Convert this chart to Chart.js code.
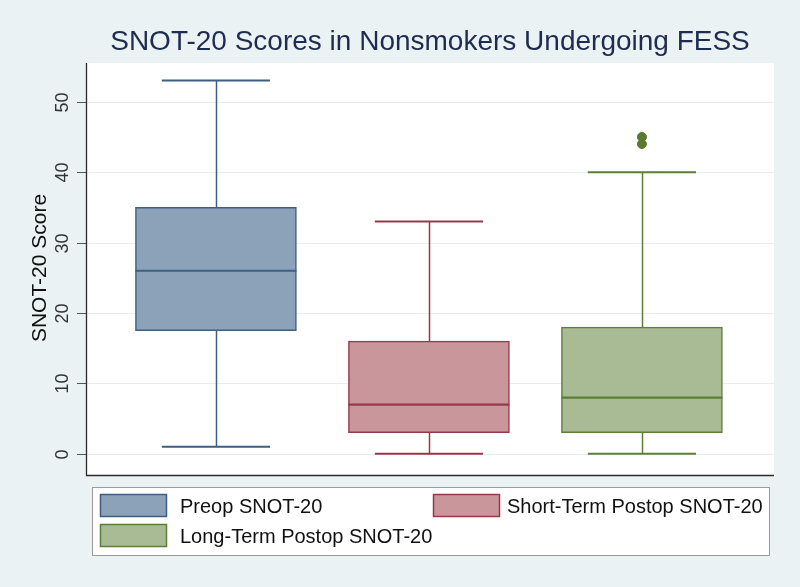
<!DOCTYPE html>
<html>
<head>
<meta charset="utf-8">
<script src="https://cdn.jsdelivr.net/npm/chart.js@4.4.1/dist/chart.umd.min.js"></script>
<style>
html,body{margin:0;padding:0;background:#eaf2f4;}
#wrap{width:800px;height:587px;position:relative;}
canvas{display:block;}
</style>
</head>
<body>
<div id="wrap"><canvas id="c" width="800" height="587"></canvas></div>
<script>
// ---- data ----
const categories = ['Preop SNOT-20', 'Short-Term Postop SNOT-20', 'Long-Term Postop SNOT-20'];
const q1Values = [17.5, 3, 3];
const medianValues = [26, 7, 8];
const q3Values = [35, 16, 18];
const whiskerLow = [1, 0, 0];
const whiskerHigh = [53, 33, 40];
const outliers = [[], [], [44, 45]];
const yTicks = [0, 10, 20, 30, 40, 50];
const titleText = 'SNOT-20 Scores in Nonsmokers Undergoing FESS';
const yTitle = 'SNOT-20 Score';

// ---- styles ----
const fills = ['#8ba2b9', '#c9979b', '#a9bb94'];
const strokes = ['#3d5f82', '#993848', '#5e7f38'];
const FONT = '"Liberation Sans", Arial, sans-serif';

const datasets = categories.map((name, i) => ({
  type: 'bar',
  label: name,
  data: [{x: i + 1, y: [q1Values[i], q3Values[i]]}],
  backgroundColor: fills[i],
  borderColor: strokes[i],
  borderWidth: 1.5,
  borderSkipped: false,
  barThickness: 161,
  grouped: false
}));
datasets.push({
  type: 'scatter',
  label: 'outliers',
  data: outliers.flatMap((arr, i) => arr.map(v => ({x: i + 1, y: v}))),
  backgroundColor: '#5b7a2e',
  borderColor: '#5b7a2e',
  pointRadius: 4.5,
  pointHoverRadius: 4.5
});

const decor = {
  id: 'decor',
  beforeDraw(chart) {
    const {ctx, chartArea: a, scales: {y}} = chart;
    ctx.save();
    ctx.fillStyle = '#eaf2f4';
    ctx.fillRect(0, 0, chart.width, chart.height);
    ctx.fillStyle = '#ffffff';
    ctx.fillRect(a.left, a.top, a.right - a.left, a.bottom - a.top);
    ctx.strokeStyle = '#e4eff2';
    ctx.lineWidth = 1;
    yTicks.forEach(t => {
      const py = Math.round(y.getPixelForValue(t)) + 0.5;
      ctx.beginPath(); ctx.moveTo(a.left, py); ctx.lineTo(a.right, py); ctx.stroke();
    });
    ctx.restore();
  },
  beforeDatasetsDraw(chart) {
    const {ctx, scales: {x, y}} = chart;
    ctx.save();
    categories.forEach((c, i) => {
      const cx = Math.round(x.getPixelForValue(i + 1)) + 0.5;
      const capL = x.getPixelForValue(i + 1 - 0.254), capR = x.getPixelForValue(i + 1 + 0.254);
      ctx.strokeStyle = strokes[i];
      ctx.lineWidth = 1.5;
      const yl = y.getPixelForValue(whiskerLow[i]), yh = y.getPixelForValue(whiskerHigh[i]);
      const y1 = y.getPixelForValue(q1Values[i]), y3 = y.getPixelForValue(q3Values[i]);
      ctx.beginPath();
      ctx.moveTo(cx, y1); ctx.lineTo(cx, yl);
      ctx.moveTo(cx, y3); ctx.lineTo(cx, yh);
      ctx.stroke();
      ctx.lineWidth = 2;
      ctx.beginPath();
      ctx.moveTo(capL, yl); ctx.lineTo(capR, yl);
      ctx.moveTo(capL, yh); ctx.lineTo(capR, yh);
      ctx.stroke();
    });
    ctx.restore();
  },
  afterDatasetsDraw(chart) {
    const {ctx, chartArea: a, scales: {x, y}} = chart;
    ctx.save();
    categories.forEach((c, i) => {
      const cx = x.getPixelForValue(i + 1);
      const ym = y.getPixelForValue(medianValues[i]);
      ctx.strokeStyle = strokes[i];
      ctx.lineWidth = 2.2;
      ctx.beginPath(); ctx.moveTo(cx - 80.5, ym); ctx.lineTo(cx + 80.5, ym); ctx.stroke();
    });
    ctx.strokeStyle = '#2b2b2b';
    ctx.lineWidth = 1.3;
    ctx.beginPath();
    ctx.moveTo(a.left + 0.5, a.top); ctx.lineTo(a.left + 0.5, a.bottom + 0.5); ctx.lineTo(a.right, a.bottom + 0.5);
    ctx.stroke();
    ctx.strokeStyle = '#555';
    ctx.lineWidth = 1;
    ctx.fillStyle = '#333';
    ctx.font = '18px ' + FONT;
    ctx.textAlign = 'center';
    ctx.textBaseline = 'middle';
    yTicks.forEach(t => {
      const py = Math.round(y.getPixelForValue(t)) + 0.5;
      ctx.beginPath(); ctx.moveTo(a.left - 9, py); ctx.lineTo(a.left, py); ctx.stroke();
      ctx.save();
      ctx.translate(63, py);
      ctx.rotate(-Math.PI / 2);
      ctx.fillText(String(t), 0, 0);
      ctx.restore();
    });
    ctx.save();
    ctx.font = '21px ' + FONT;
    ctx.fillStyle = '#111';
    ctx.translate(40, 268);
    ctx.rotate(-Math.PI / 2);
    ctx.fillText(yTitle, 0, 0);
    ctx.restore();
    ctx.font = '28px ' + FONT;
    ctx.fillStyle = '#1e2c50';
    ctx.fillText(titleText, (a.left + a.right) / 2, 42);
    ctx.fillStyle = '#ffffff';
    ctx.fillRect(92.5, 487.5, 677, 68);
    ctx.strokeStyle = '#9a9a9a';
    ctx.lineWidth = 1;
    ctx.strokeRect(92.5, 487.5, 677, 68);
    const pos = [[100, 494, 180], [433, 494, 507], [100, 524, 180]];
    ctx.font = '20px ' + FONT;
    ctx.textAlign = 'left';
    categories.forEach((c, i) => {
      const [lx, ly, tx] = pos[i];
      ctx.fillStyle = fills[i];
      ctx.fillRect(lx, ly, 67, 23);
      ctx.strokeStyle = strokes[i];
      ctx.lineWidth = 1.5;
      ctx.strokeRect(lx + 0.5, ly + 0.5, 66, 22);
      ctx.fillStyle = '#111';
      ctx.fillText(c, tx, ly + 13);
    });
    ctx.restore();
  }
};

new Chart(document.getElementById('c'), {
  data: {datasets},
  options: {
    responsive: false,
    animation: false,
    layout: {padding: {left: 86, right: 26, top: 63, bottom: 112}},
    scales: {
      x: {type: 'linear', min: 0.39, max: 3.62, offset: false, display: false},
      y: {type: 'linear', min: -3, max: 55.5, display: false}
    },
    plugins: {legend: {display: false}, title: {display: false}, tooltip: {enabled: false}}
  },
  plugins: [decor]
});
</script>
</body>
</html>
